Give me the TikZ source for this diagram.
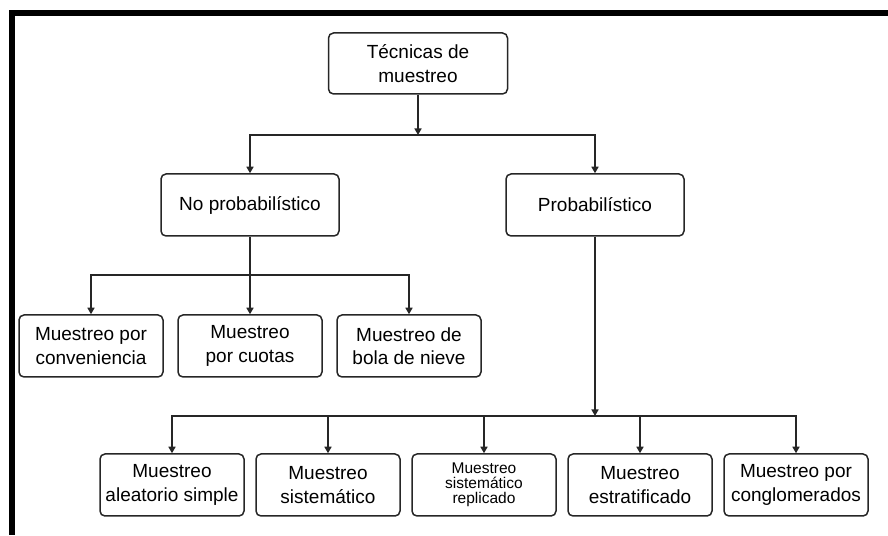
\documentclass[tikz,border=0pt]{standalone}
\usepackage{fontspec}
\setmainfont{Liberation Sans}
\usetikzlibrary{arrows.meta,positioning}

\begin{document}
\begin{tikzpicture}[x=1pt,y=1pt,
    caja/.style={draw=black!85, line width=1.5pt, rounded corners=5pt, align=center,
        minimum width=144pt, minimum height=62pt, inner sep=0pt,
        font=\fontsize{19}{23.5}\selectfont},
    flecha/.style={->, >={Triangle[length=6.5pt,width=7pt]}, line width=1.5pt, draw=black!85}]
    \useasboundingbox (0,0) rectangle (888,535);
    % marco
    \fill (9,519) rectangle (888,525);
    \fill (9,0) rectangle (15,525);
    % cajas
    \node[caja, minimum width=179pt, minimum height=61pt] (tec) at (418,471.5) {Técnicas de\\muestreo};
    \node[caja, minimum width=178pt] (noprob) at (250,330) {No probabilístico};
    \node[caja, minimum width=178pt] (prob) at (595,330) {Probabilístico};
    \node[caja] (conv) at (91,189) {Muestreo por\\conveniencia};
    \node[caja] (cuot) at (250,189) {Muestreo\\por cuotas};
    \node[caja] (bola) at (409,189) {Muestreo de\\bola de nieve};
    \node[caja] (ale) at (172,50) {Muestreo\\aleatorio simple};
    \node[caja] (sis) at (328,50) {Muestreo\\sistemático};
    \node[caja, font=\fontsize{15.5}{15}\selectfont] (rep) at (484,50) {Muestreo\\sistemático\\replicado};
    \node[caja] (est) at (640,50) {Muestreo\\estratificado};
    \node[caja] (cong) at (796,50) {Muestreo por\\conglomerados};
    % flechas
    \coordinate (j1) at (418,400);
    \coordinate (j2) at (250,260);
    \coordinate (j3) at (595,119);
    \draw[flecha] (tec) -- (j1);
    \foreach \n in {noprob,prob}
        \draw[flecha] (j1) -| (\n);
    \draw[flecha] (noprob) -- (cuot);
    \foreach \n in {conv,bola}
        \draw[flecha] (j2) -| (\n);
    \draw[flecha] (prob) -- (j3);
    \foreach \n in {ale,sis,rep,est,cong}
        \draw[flecha] (j3) -| (\n);
\end{tikzpicture}
\end{document}
